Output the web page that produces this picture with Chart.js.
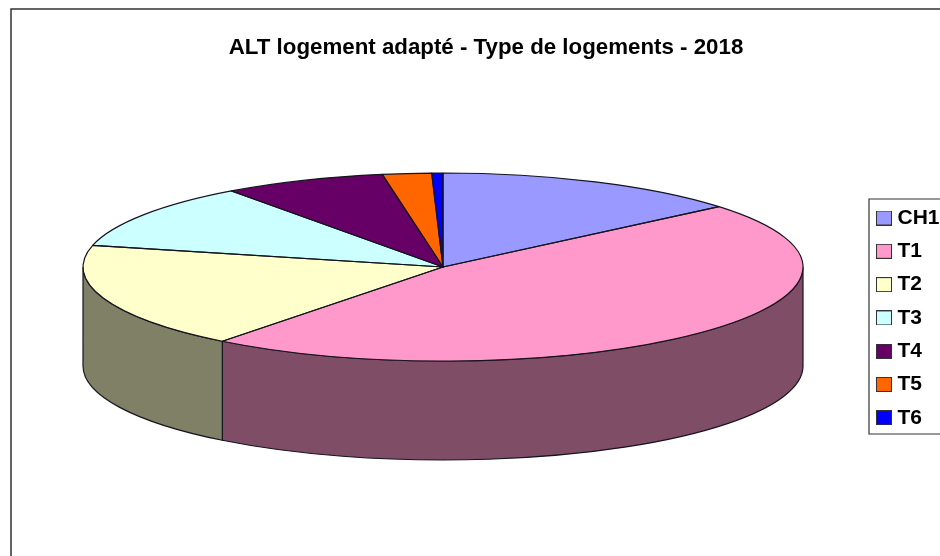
<!DOCTYPE html>
<html>
<head>
<meta charset="utf-8">
<title>ALT logement adapté</title>
<script src="https://cdn.jsdelivr.net/npm/chart.js@4"></script>
<style>
    body { margin: 0; background: #fff; }
    canvas { display: block; }
</style>
</head>
<body>
<canvas id="pieChart" width="940" height="556"></canvas>
<script>
const chartTitle = 'ALT logement adapté - Type de logements - 2018';
const categories = ['CH1', 'T1', 'T2', 'T3', 'T4', 'T5', 'T6'];
const shares = [13.9, 46.6, 18.2, 11.3, 7.3, 2.2, 0.5];
const sliceColors = ['#9999ff', '#ff99cc', '#ffffcc', '#ccffff', '#660066', '#ff6600', '#0000ff'];
const wallColors = ['#4d4d80', '#804d66', '#808066', '#668080', '#330033', '#803300', '#000080'];

const outline = '#15151f';
const pieBox = { left: 83, right: 803, top: 173, bottom: 361 };
const pieDepth = 99;
const legendBox = { left: 869, top: 199, bottom: 434 };

// legend swatches sit closer to the text than a normal legend box allows,
// so they are small canvases wider than the reserved box
function makeSwatch(color) {
    const swatch = document.createElement('canvas');
    swatch.width = 16;
    swatch.height = 15;
    const ctx = swatch.getContext('2d');
    ctx.fillStyle = color;
    ctx.fillRect(0, 0, 16, 15);
    ctx.strokeStyle = '#333';
    ctx.lineWidth = 1;
    ctx.strokeRect(0.5, 0.5, 15, 14);
    return swatch;
}

// Chart.js only draws round pies, so the layout is pinned here and the
// circle gets stretched into an ellipse while the datasets are drawn
const tiltedPie = {
    id: 'tiltedPie',
    afterLayout(chart) {
        chart.chartArea = {
            ...pieBox,
            width: pieBox.right - pieBox.left,
            height: pieBox.bottom - pieBox.top
        };
        chart.titleBlock.left = 32;
        chart.titleBlock.right = 940;

        const padding = chart.legend.options.labels.padding;
        chart.legend.left = 881 - padding;
        chart.legend.right = 1000;
        chart.legend.top = 207.5 - padding;
        chart.legend.bottom = 600;
    },
    beforeDraw(chart) {
        const ctx = chart.ctx;
        ctx.save();
        ctx.fillStyle = '#fff';
        ctx.fillRect(0, 0, chart.width, chart.height);
        ctx.strokeStyle = '#333';
        ctx.lineWidth = 1.5;
        ctx.beginPath();
        ctx.moveTo(940, 9);
        ctx.lineTo(11, 9);
        ctx.lineTo(11, 556);
        ctx.stroke();
        ctx.restore();
    },
    beforeDatasetsDraw(chart) {
        const ctx = chart.ctx;
        const area = chart.chartArea;
        const rx = area.width / 2;
        const ry = area.height / 2;
        const cx = area.left + rx;
        const cy = area.top + ry;

        // the wall only shows on the front half of the pie
        ctx.save();
        ctx.strokeStyle = outline;
        ctx.lineWidth = 1.2;
        chart.getDatasetMeta(0).data.forEach((arc, i) => {
            const from = Math.max(arc.startAngle, 0);
            const to = Math.min(arc.endAngle, Math.PI);
            if (from >= to) return;
            ctx.fillStyle = wallColors[i];
            ctx.beginPath();
            ctx.ellipse(cx, cy, rx, ry, 0, from, to);
            ctx.ellipse(cx, cy + pieDepth, rx, ry, 0, to, from, true);
            ctx.closePath();
            ctx.fill();
            ctx.stroke();
        });
        ctx.restore();

        ctx.save();
        ctx.translate(cx, cy);
        ctx.scale(rx / ry, 1);
        ctx.translate(-cx, -cy);
    },
    afterDatasetsDraw(chart) {
        const ctx = chart.ctx;
        ctx.restore();

        const area = chart.chartArea;
        const rx = area.width / 2;
        const ry = area.height / 2;
        const cx = area.left + rx;
        const cy = area.top + ry;

        ctx.save();
        ctx.strokeStyle = outline;
        ctx.lineWidth = 1.2;
        ctx.lineJoin = 'round';
        chart.getDatasetMeta(0).data.forEach(arc => {
            ctx.beginPath();
            ctx.moveTo(cx, cy);
            ctx.ellipse(cx, cy, rx, ry, 0, arc.startAngle, arc.endAngle);
            ctx.closePath();
            ctx.stroke();
        });
        ctx.restore();
    },
    afterDraw(chart) {
        const ctx = chart.ctx;
        ctx.save();
        ctx.strokeStyle = '#333';
        ctx.lineWidth = 1.2;
        ctx.beginPath();
        ctx.moveTo(940, legendBox.top);
        ctx.lineTo(legendBox.left, legendBox.top);
        ctx.lineTo(legendBox.left, legendBox.bottom);
        ctx.lineTo(940, legendBox.bottom);
        ctx.stroke();
        ctx.restore();
    }
};

new Chart(document.getElementById('pieChart').getContext('2d'), {
    type: 'pie',
    data: {
        labels: categories,
        datasets: [{
            data: shares,
            backgroundColor: sliceColors,
            borderWidth: 0,
            clip: false
        }]
    },
    options: {
        responsive: false,
        animation: false,
        plugins: {
            title: {
                display: true,
                text: chartTitle,
                color: '#000',
                font: { family: '"Liberation Sans", Arial, sans-serif', size: 22.3, weight: 'bold' },
                padding: { top: 34, bottom: 10 }
            },
            legend: {
                position: 'right',
                align: 'start',
                labels: {
                    color: '#000',
                    font: { family: '"Liberation Sans", Arial, sans-serif', size: 21, weight: 'bold' },
                    usePointStyle: true,
                    pointStyleWidth: 6,
                    boxHeight: 15,
                    padding: 12.3,
                    generateLabels(chart) {
                        return Chart.overrides.doughnut.plugins.legend.labels.generateLabels(chart)
                            .map((item, i) => ({ ...item, pointStyle: makeSwatch(sliceColors[i]) }));
                    }
                }
            },
            tooltip: { enabled: false }
        }
    },
    plugins: [tiltedPie]
});
</script>
</body>
</html>
